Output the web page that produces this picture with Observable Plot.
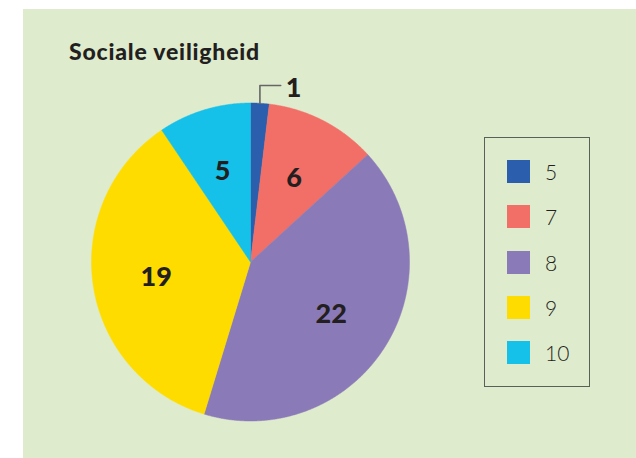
<!DOCTYPE html>
<html><head><meta charset="utf-8">
<script src="https://cdn.jsdelivr.net/npm/d3@7"></script>
<script src="https://cdn.jsdelivr.net/npm/@observablehq/plot@0.6"></script>
<style>
body{margin:0;background:#fff;width:636px;height:458px;overflow:hidden;position:relative;font-family:Lato,"Noto Sans",sans-serif;color:#231f20}
#bg{position:absolute;left:23px;top:9px;width:613px;height:449px;background:#dfebcd}
#title{position:absolute;left:69px;top:40px;font-weight:900;font-size:23px;line-height:23px;letter-spacing:0.8px;white-space:nowrap}
#chart{position:absolute;left:0;top:0}
#legend{position:absolute;left:484px;top:137px;width:106px;height:250px;border:1.5px solid #5a5f58;box-sizing:border-box}
.row{position:absolute;left:22px;height:23px;display:flex;align-items:center}
.sw{width:23px;height:23px;margin-right:15px}
.lab{font-size:21px;font-weight:300;line-height:23px}
</style></head>
<body>
<div id="bg"></div>
<div id="title">Sociale veiligheid</div>
<div id="chart"></div>
<div id="legend"></div>
<script>
const categories = ["5", "7", "8", "9", "10"];
const values = [1, 6, 22, 19, 5];
const colors = ["#2b5fad", "#f26f67", "#8a7ab7", "#fedc00", "#15c0e9"];

const arcs = d3.pie().sort(null).value(d => d.value)(
  categories.map((c, i) => ({category: c, value: values[i]}))
);

// polygon points for every slice (angle 0 at top, clockwise)
const pts = [];
arcs.forEach(a => {
  const n = Math.max(4, Math.ceil((a.endAngle - a.startAngle) / 0.005));
  pts.push({category: a.data.category, x: 0, y: 0});
  for (let k = 0; k <= n; k++) {
    const t = a.startAngle + (a.endAngle - a.startAngle) * k / n;
    pts.push({category: a.data.category, x: Math.sin(t), y: Math.cos(t)});
  }
  pts.push({category: a.data.category, x: 0, y: 0});
});

const mid = a => (a.startAngle + a.endAngle) / 2;
const inner = arcs.filter(a => a.data.value > 1).map(a => ({
  text: String(a.data.value), x: 0.6 * Math.sin(mid(a)), y: 0.6 * Math.cos(mid(a))
}));
const small = arcs.filter(a => a.data.value <= 1);
const leader = [];
small.forEach(a => {
  const m = mid(a);
  leader.push({id: a.data.category, x: Math.sin(m), y: Math.cos(m)});
  leader.push({id: a.data.category, x: Math.sin(m), y: 1.11});
  leader.push({id: a.data.category, x: 0.19, y: 1.11});
});
const outer = small.map(a => ({text: String(a.data.value), x: 0.222, y: 1.095}));

const chart = Plot.plot({
  width: 636, height: 458,
  margin: 0,
  x: {domain: [-1, 1], range: [91, 409], axis: null},
  y: {domain: [-1, 1], range: [420.5, 102.5], axis: null},
  color: {domain: categories, range: colors},
  style: {background: "transparent", fontFamily: "Lato, sans-serif"},
  marks: [
    Plot.line(pts, {x: "x", y: "y", z: "category", fill: "category", stroke: "category", strokeWidth: 0.5, curve: "linear"}),
    Plot.line(leader, {x: "x", y: "y", z: "id", stroke: "#666", strokeWidth: 1.6}),
    Plot.text(inner, {x: "x", y: "y", text: "text", fontSize: 27, fontWeight: 900, fill: "#231f20", dy: 1}),
    Plot.text(outer, {x: "x", y: "y", text: "text", fontSize: 27, fontWeight: 900, fill: "#231f20", textAnchor: "start"})
  ]
});
document.getElementById("chart").appendChild(chart);

const legend = document.getElementById("legend");
const rowTops = [22, 67, 113, 158, 203];
categories.forEach((c, i) => {
  const r = document.createElement("div");
  r.className = "row";
  r.style.top = rowTops[i] + "px";
  r.innerHTML = `<div class="sw" style="background:${colors[i]}"></div><span class="lab">${c}</span>`;
  legend.appendChild(r);
});
</script>
</body></html>
